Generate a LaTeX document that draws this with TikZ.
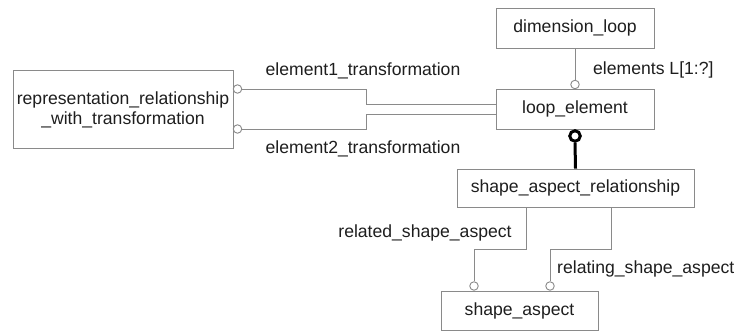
\documentclass[tikz,border=0pt]{standalone}
\usepackage{fontspec}
\setmainfont{Liberation Sans}
\begin{document}
\begin{tikzpicture}[x=1pt,y=-1pt,
  box/.style={draw=boxgray,line width=0.9pt,fill=white,inner sep=0pt,align=center,font=\fontsize{17.6}{20}\selectfont,text=txt},
  lbl/.style={inner sep=0pt,font=\fontsize{17.6}{20}\selectfont,text=txt},
  conn/.style={draw=boxgray,line width=0.9pt},
  circ/.style={circle,draw=boxgray,line width=0.9pt,fill=white,inner sep=0pt,minimum size=8.5pt},
  bigcirc/.style={circle,draw=black,line width=3pt,fill=white,inner sep=0pt,minimum size=10.5pt}]
\definecolor{boxgray}{HTML}{8A8A8A}
\definecolor{txt}{HTML}{1E1E1E}
\useasboundingbox (0,0) rectangle (738,331);
\fill[white] (0,0) rectangle (738,331);
% boxes
\node[box,minimum width=220pt,minimum height=78pt] (rep) at (123,109.5) {representation\_relationship\\\_with\_transformation};
\node[box,minimum width=158pt,minimum height=40pt] (dim) at (575,28) {dimension\_loop};
\node[box,minimum width=158pt,minimum height=40pt] (loop) at (575,109) {loop\_element};
\node[box,minimum width=237pt,minimum height=38pt] (sar) at (575.5,188) {shape\_aspect\_relationship};
\node[box,minimum width=157pt,minimum height=39pt] (sa) at (519.5,310.5) {shape\_aspect};
% circles
\node[circ] (c1) at (237.5,89) {};
\node[circ] (c2) at (237.5,129) {};
\node[circ] (c3) at (575,84.5) {};
\node[bigcirc] (c4) at (575,136) {};
\node[circ] (c5) at (474,286) {};
\node[circ] (c6) at (550,286) {};
% connectors
\coordinate (k1) at (366,104);
\coordinate (k2) at (366,114);
\draw[conn] (c1.east) -| (k1) -- (loop.west |- k1);
\draw[conn] (c2.east) -| (k2) -- (loop.west |- k2);
\draw[conn] (dim.south) -- (c3.north);
\draw[black,line width=3pt] (c4.south) -- (sar.north);
\coordinate (r1) at (526,249);
\coordinate (r2) at (611,249);
\draw[conn] (sar.south -| r1) -- (r1) -| (c5.north);
\draw[conn] (sar.south -| r2) -- (r2) -| (c6.north);
% labels
\node[lbl] (l1) at (363,71) {element1\_transformation};
\node[lbl] (l2) at (363,149) {element2\_transformation};
\node[lbl,anchor=west] (l3) at (593,70) {elements L[1:?]};
\node[lbl] (l4) at (425,233) {related\_shape\_aspect};
\node[lbl,anchor=west] (l5) at (557,269) {relating\_shape\_aspect};
\end{tikzpicture}
\end{document}
